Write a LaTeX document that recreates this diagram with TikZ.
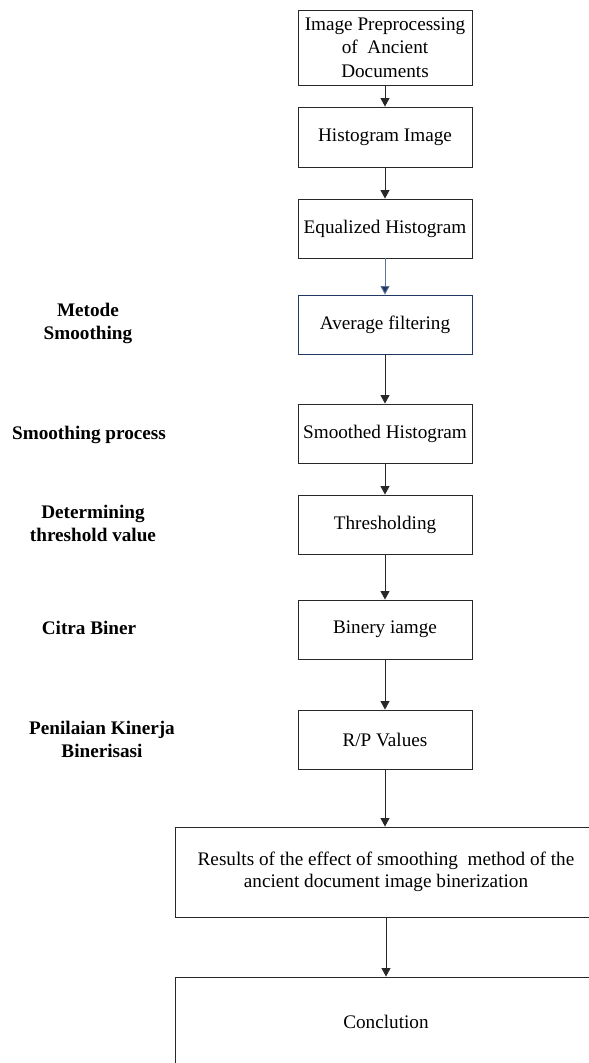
\documentclass[tikz,border=0pt]{standalone}
\usepackage{fontspec}
\setmainfont{Liberation Serif}
\usetikzlibrary{arrows.meta}
\definecolor{navy}{RGB}{31,56,100}
\definecolor{slate}{RGB}{95,115,150}
\definecolor{edge}{RGB}{40,40,40}
\begin{document}
\begin{tikzpicture}[x=1pt,y=-1pt,
  stepbox/.style={draw=edge, line width=0.9pt, minimum width=174pt, inner sep=0pt, align=center,
    font=\fontsize{19.2}{23.5}\selectfont},
  widebox/.style={draw=edge, line width=0.9pt, minimum width=422pt, minimum height=90pt, inner sep=0pt, align=center,
    font=\fontsize{19.2}{22.5}\selectfont},
  sidelabel/.style={align=center, inner sep=0pt, font=\fontsize{19.2}{23}\selectfont\bfseries},
  flow/.style={draw=edge, line width=0.9pt, -{Triangle[length=8.5pt,width=9pt]}}]
\useasboundingbox (0,0) rectangle (589,1063);
\clip (0,0) rectangle (589,1063);
\fill[white] (0,0) rectangle (589,1063);

\node[stepbox, minimum height=75pt] (b1) at (385,47.5) {Image Preprocessing\\of~ Ancient\\Documents};
\node[stepbox, minimum height=60pt] (b2) at (385,137) {Histogram Image};
\node[stepbox, minimum height=59pt] (b3) at (385,228.5) {Equalized Histogram};
\node[stepbox, minimum height=59pt, draw=navy] (b4) at (385,324.5) {Average filtering};
\node[stepbox, minimum height=59pt] (b5) at (385,433.5) {Smoothed Histogram};
\node[stepbox, minimum height=59pt] (b6) at (385,524.5) {Thresholding};
\node[stepbox, minimum height=59pt] (b7) at (385,629.5) {Binery iamge};
\node[stepbox, minimum height=59pt] (b8) at (385,739.5) {R/P Values};
\node[widebox] (b9) at (386,872) {Results of the effect of smoothing~ method of the\\ancient document image binerization};
\node[widebox] (b10) at (386,1022) {Conclution};

\draw[flow] (b1) -- (b2);
\draw[flow] (b2) -- (b3);
\draw[flow, draw=slate, -{Triangle[length=8.5pt,width=9pt,fill=navy]}] (b3) -- (b4);
\draw[flow] (b4) -- (b5);
\draw[flow] (b5) -- (b6);
\draw[flow] (b6) -- (b7);
\draw[flow] (b7) -- (b8);
\draw[flow] (b8.south) -- (b8.south |- b9.north);
\draw[flow] (b9) -- (b10);

\node[sidelabel] (l1) at (88,323) {Metode\\Smoothing};
\node[sidelabel] (l2) at (89,435) {Smoothing process};
\node[sidelabel] (l3) at (93,523) {Determining\\threshold value};
\node[sidelabel] (l4) at (89,628) {Citra Biner};
\node[sidelabel] (l5) at (102,739) {Penilaian Kinerja\\Binerisasi};
\end{tikzpicture}
\end{document}
